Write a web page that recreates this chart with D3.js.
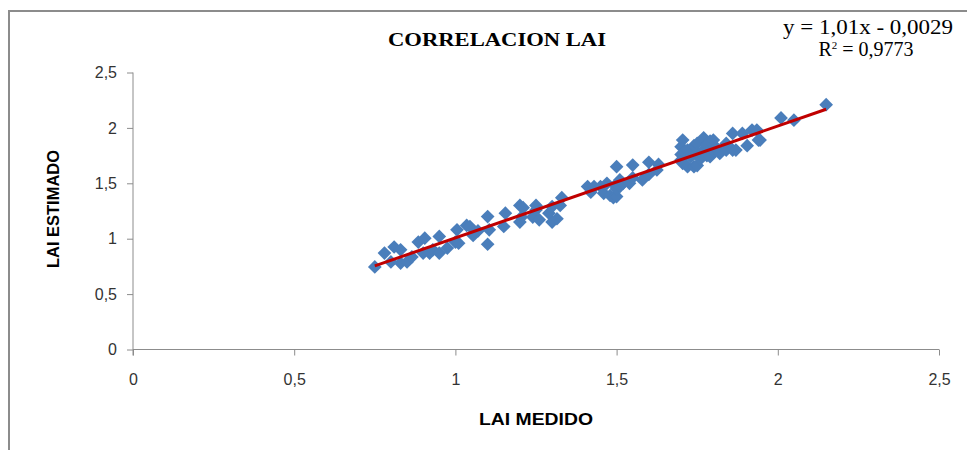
<!DOCTYPE html>
<html>
<head>
<meta charset="utf-8">
<script src="https://cdn.jsdelivr.net/npm/d3@7"></script>
<style>
  body { margin: 0; background: #fff; }
  .tick text { font-family: "Liberation Sans", sans-serif; font-size: 16px; fill: #333; }
  .axis path, .axis line { stroke: #8c8c8c; }
</style>
</head>
<body>
<div id="chart"></div>
<script>
var width = 967,
    height = 450;

// LAI medido (x) / LAI estimado (y)
var laiMedido = [
  0.75, 0.78, 0.80, 0.81, 0.83, 0.83, 0.85, 0.865, 0.885, 0.90, 0.905, 0.92, 0.93, 0.95, 0.95, 0.975,
  1.00, 1.005, 1.01, 1.035, 1.045, 1.055, 1.07, 1.10, 1.10, 1.105, 1.15, 1.155,
  1.20, 1.20, 1.205, 1.21, 1.24, 1.25, 1.25, 1.26, 1.29, 1.30, 1.30, 1.315, 1.325, 1.33,
  1.41, 1.42, 1.43, 1.45, 1.46, 1.47, 1.48, 1.49, 1.495, 1.50, 1.50, 1.50, 1.51, 1.51, 1.52,
  1.54, 1.55, 1.55, 1.58, 1.60, 1.60, 1.625, 1.63,
  1.70, 1.70, 1.70, 1.705, 1.705, 1.71, 1.72, 1.72, 1.73, 1.73, 1.74, 1.74, 1.75, 1.75, 1.75, 1.76,
  1.77, 1.77, 1.78, 1.78, 1.79, 1.79, 1.80, 1.80, 1.81, 1.82, 1.84, 1.84, 1.86, 1.86, 1.87, 1.89,
  1.905, 1.92, 1.935, 1.94, 1.945, 2.01, 2.05, 2.15
];
var laiEstimado = [
  0.745, 0.87, 0.79, 0.925, 0.78, 0.90, 0.79, 0.835, 0.97, 0.87, 1.005, 0.87, 0.90, 1.02, 0.87, 0.915,
  0.97, 1.08, 0.96, 1.12, 1.11, 1.03, 1.07, 0.95, 1.20, 1.08, 1.11, 1.23,
  1.30, 1.15, 1.195, 1.28, 1.195, 1.30, 1.26, 1.17, 1.23, 1.15, 1.29, 1.18, 1.30, 1.37,
  1.47, 1.42, 1.47, 1.47, 1.41, 1.50, 1.39, 1.37, 1.48, 1.65, 1.38, 1.45, 1.47, 1.53, 1.50,
  1.50, 1.665, 1.55, 1.53, 1.69, 1.58, 1.62, 1.67,
  1.83, 1.71, 1.76, 1.68, 1.89, 1.78, 1.65, 1.80, 1.74, 1.77, 1.65, 1.84, 1.66, 1.86, 1.77, 1.72,
  1.91, 1.80, 1.75, 1.85, 1.74, 1.88, 1.89, 1.79, 1.82, 1.77, 1.86, 1.80, 1.95, 1.80, 1.80, 1.95,
  1.84, 1.98, 1.98, 1.89, 1.89, 2.09, 2.07, 2.21
];

var slope = 1.01,
    intercept = -0.0029;

var xTicks = [0, 0.5, 1, 1.5, 2, 2.5];
var yTicks = [0, 0.5, 1, 1.5, 2, 2.5];

var fmt = function (d) { return String(d).replace(".", ","); };

var svg = d3.select("#chart").append("svg")
    .attr("width", width)
    .attr("height", height);

// outer frame of the chart area
svg.append("rect")
    .attr("x", 9).attr("y", 11)
    .attr("width", 1000).attr("height", 500)
    .attr("fill", "none")
    .attr("stroke", "#8c8c8c")
    .attr("stroke-width", 2);

var x = d3.scaleLinear().domain([0, 2.5]).range([133, 939]);
var y = d3.scaleLinear().domain([0, 2.5]).range([349.5, 72.5]);

svg.append("g")
    .attr("class", "axis")
    .attr("transform", "translate(0," + y(0) + ")")
    .call(d3.axisBottom(x).tickValues(xTicks).tickFormat(fmt).tickSize(6).tickPadding(18))
    .call(function (g) { g.select(".domain").attr("d", "M" + x(0) + ",0H" + x(2.5)); });

svg.append("g")
    .attr("class", "axis")
    .attr("transform", "translate(" + x(0) + ",0)")
    .call(d3.axisLeft(y).tickValues(yTicks).tickFormat(fmt).tickSize(6).tickPadding(10))
    .call(function (g) { g.select(".domain").attr("d", "M0," + y(2.5) + "V" + (y(0) + 6)); });

var diamond = d3.symbol().type(d3.symbolDiamond2).size(120);

svg.append("g").selectAll("path")
    .data(laiMedido)
    .enter().append("path")
    .attr("d", diamond)
    .attr("transform", function (d, i) { return "translate(" + x(d) + "," + y(laiEstimado[i]) + ")"; })
    .attr("fill", "#4a7ebb");

// linear trend line
var xmin = d3.min(laiMedido), xmax = d3.max(laiMedido);
svg.append("line")
    .attr("x1", x(xmin)).attr("y1", y(slope * xmin + intercept))
    .attr("x2", x(xmax)).attr("y2", y(slope * xmax + intercept))
    .attr("stroke", "#c00000")
    .attr("stroke-width", 3);

svg.append("text")
    .attr("x", 497).attr("y", 46)
    .attr("text-anchor", "middle")
    .attr("textLength", 218)
    .attr("lengthAdjust", "spacingAndGlyphs")
    .style("font-family", "Liberation Serif, serif")
    .style("font-weight", "bold")
    .style("font-size", "19px")
    .text("CORRELACION LAI");

svg.append("text")
    .attr("x", 868).attr("y", 34)
    .attr("text-anchor", "middle")
    .attr("textLength", 170)
    .attr("lengthAdjust", "spacingAndGlyphs")
    .style("font-family", "Liberation Serif, serif")
    .style("font-size", "20px")
    .text("y = 1,01x - 0,0029");

var r2 = svg.append("text")
    .attr("x", 866).attr("y", 56)
    .attr("text-anchor", "middle")
    .style("font-family", "Liberation Serif, serif")
    .style("font-size", "20px");
r2.append("tspan").text("R");
r2.append("tspan").attr("dy", -7).style("font-size", "11px").text("2");
r2.append("tspan").attr("dy", 7).text(" = 0,9773");

svg.append("text")
    .attr("x", 536).attr("y", 425)
    .attr("text-anchor", "middle")
    .attr("textLength", 114)
    .attr("lengthAdjust", "spacingAndGlyphs")
    .style("font-family", "Liberation Sans, sans-serif")
    .style("font-weight", "bold")
    .style("font-size", "17px")
    .text("LAI MEDIDO");

svg.append("text")
    .attr("transform", "translate(59,209) rotate(-90)")
    .attr("text-anchor", "middle")
    .attr("textLength", 118)
    .attr("lengthAdjust", "spacingAndGlyphs")
    .style("font-family", "Liberation Sans, sans-serif")
    .style("font-weight", "bold")
    .style("font-size", "17px")
    .text("LAI ESTIMADO");
</script>
</body>
</html>
